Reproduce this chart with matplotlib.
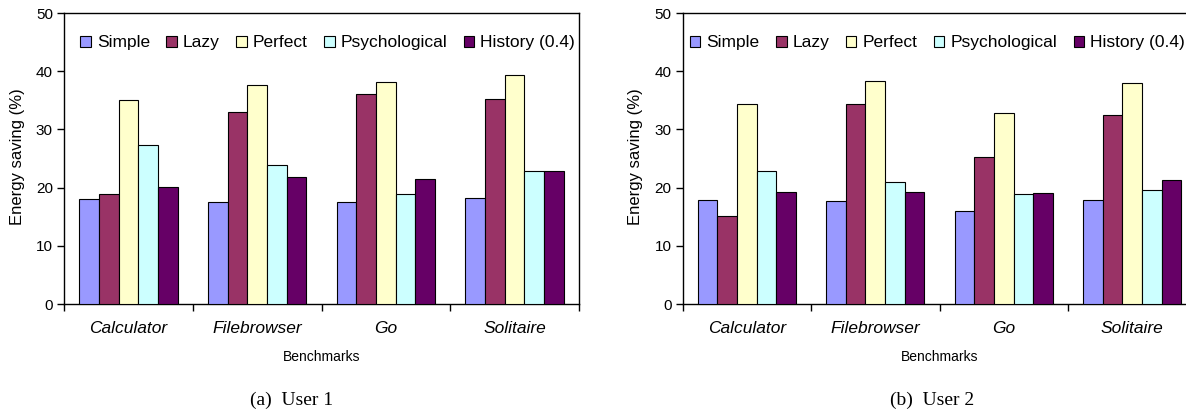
import matplotlib
matplotlib.use("Agg")
import matplotlib.pyplot as plt
import numpy as np

# Data
benchmarks = ["Calculator", "Filebrowser", "Go", "Solitaire"]
policies = ["Simple", "Lazy", "Perfect", "Psychological", "History (0.4)"]
colors = ["#9999FF", "#993366", "#FFFFCC", "#CCFFFF", "#660066"]

user1_simple = [18.0, 17.6, 17.5, 18.2]
user1_lazy = [18.9, 33.0, 36.0, 35.3]
user1_perfect = [35.1, 37.7, 38.2, 39.3]
user1_psych = [27.3, 23.8, 18.9, 22.8]
user1_history = [20.1, 21.8, 21.5, 22.8]

user2_simple = [17.9, 17.7, 15.9, 17.9]
user2_lazy = [15.2, 34.4, 25.3, 32.5]
user2_perfect = [34.3, 38.3, 32.9, 38.0]
user2_psych = [22.8, 21.0, 18.9, 19.6]
user2_history = [19.3, 19.3, 19.1, 21.3]

user1 = [user1_simple, user1_lazy, user1_perfect, user1_psych, user1_history]
user2 = [user2_simple, user2_lazy, user2_perfect, user2_psych, user2_history]

plt.rcParams["font.family"] = ["Liberation Sans", "DejaVu Sans"]

W, H = 1186, 419
fig = plt.figure(figsize=(W / 100, H / 100), dpi=100)


def draw_panel(ax, data, legend_x):
    n = len(benchmarks)
    x = np.arange(n) + 0.5
    bw = 0.153
    for i, (vals, name, c) in enumerate(zip(data, policies, colors)):
        ax.bar(x + (i - 2) * bw, vals, width=bw, color=c, edgecolor="black",
               linewidth=0.8, label=name, zorder=3)
    ax.set_xlim(0, n)
    ax.set_ylim(0, 50)
    ax.set_yticks(range(0, 51, 10))
    ax.tick_params(axis="y", labelsize=11, length=5, width=1, pad=3, direction="out")
    # boundaries as major ticks, names on minor ticks
    ax.set_xticks(np.arange(n + 1))
    ax.set_xticklabels([])
    ax.tick_params(axis="x", which="major", length=5, width=1, direction="out")
    ax.set_xticks(x, minor=True)
    ax.set_xticklabels(benchmarks, minor=True, fontsize=12.5, style="italic")
    ax.tick_params(axis="x", which="minor", length=0, pad=12)
    for s in ax.spines.values():
        s.set_linewidth(1.0)
        s.set_color("black")
    ax.text(-0.091, 0.505, "Energy saving (%)", rotation=90, ha="center", va="center",
            fontsize=12, transform=ax.transAxes)
    ax.text(0.5, -53 / 291, "Benchmarks", ha="center", va="center", fontsize=10,
            family=["Liberation Sans Narrow", "Liberation Sans"], transform=ax.transAxes)
    ax.legend(loc="center", bbox_to_anchor=(legend_x, 0.897), ncol=5, frameon=False,
              fontsize=12.5, handlelength=0.6, handleheight=0.6, handletextpad=0.35,
              columnspacing=0.95, borderaxespad=0)


ax1 = fig.add_axes([64 / W, 115 / H, 515 / W, 291 / H])
draw_panel(ax1, user1, 0.512)
ax2 = fig.add_axes([682.5 / W, 115 / H, 514 / W, 291 / H])
draw_panel(ax2, user2, 0.496)

fig.text(292 / W, 19 / H, "(a)  User 1", ha="center", va="center", fontsize=14,
         family=["Liberation Serif", "DejaVu Serif"])
fig.text(932 / W, 19 / H, "(b)  User 2", ha="center", va="center", fontsize=14,
         family=["Liberation Serif", "DejaVu Serif"])

fig.savefig("out.png", dpi=100)
